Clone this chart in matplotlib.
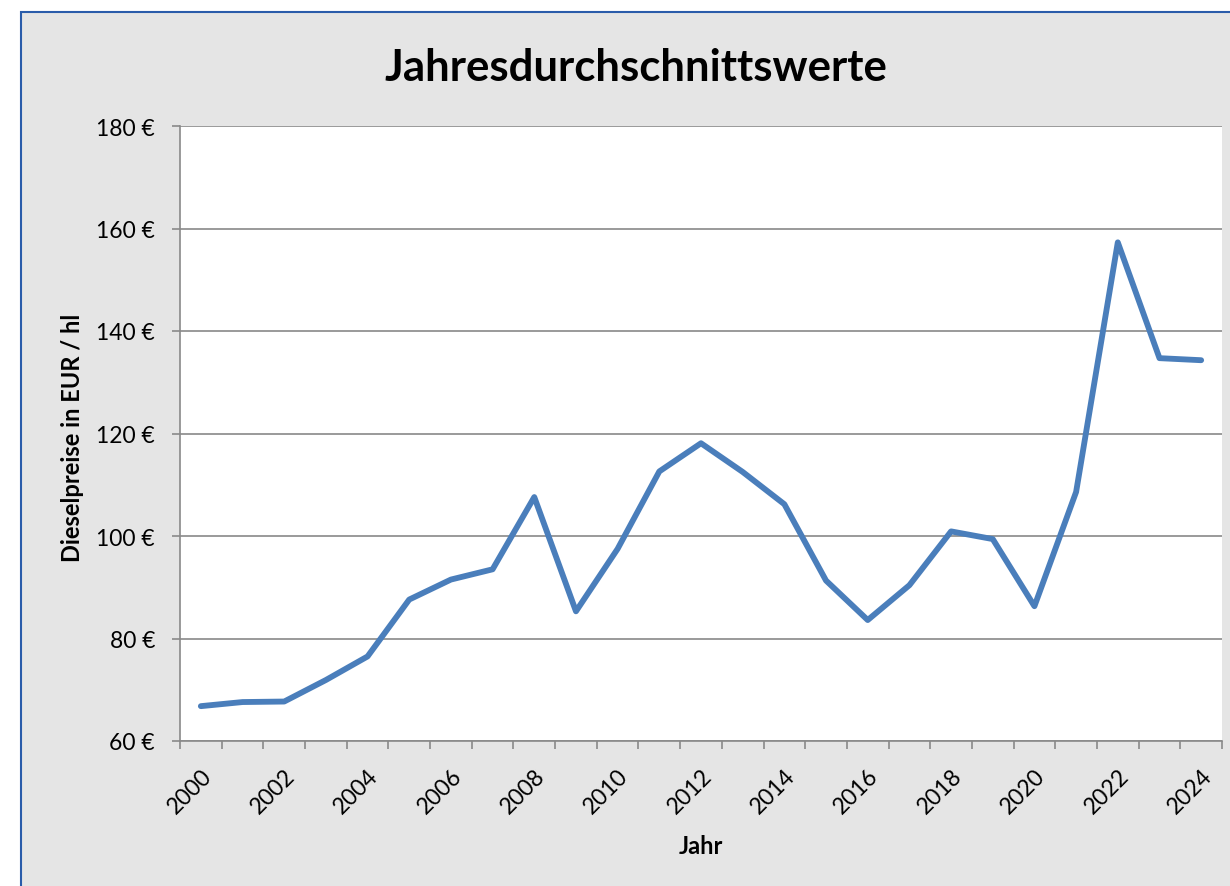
import matplotlib
matplotlib.use("Agg")
import matplotlib.pyplot as plt
from matplotlib.patches import Rectangle
from matplotlib.ticker import FuncFormatter, MultipleLocator

# ── Data ──────────────────────────────────────────────────────────────────────
years = list(range(2000, 2025))
diesel_eur_hl = [
    66.8, 67.6, 67.7, 71.9, 76.5, 87.6, 91.5, 93.5, 107.6, 85.3,
    97.5, 112.6, 118.1, 112.5, 106.2, 91.3, 83.6, 90.4, 100.9, 99.4,
    86.3, 108.6, 157.3, 134.7, 134.3,
]
y_ticks = [60, 80, 100, 120, 140, 160, 180]
x_labels = years[::2]

# ── Style ─────────────────────────────────────────────────────────────────────
plt.rcParams["font.family"] = ["Lato", "DejaVu Sans"]
C_LINE = "#4a7ebb"
C_AXIS = "#898989"
C_BG = "#e5e5e5"
C_FRAME = "#2a5caa"

W, H = 1230, 887
AX_L, AX_R, AX_T, AX_B = 180, 1222, 127, 742   # plot area in pixels
fig = plt.figure(figsize=(W / 100, H / 100), dpi=100, facecolor="white")

# chart frame (extends beyond right/bottom edge like the cropped original)
fig.patches.append(Rectangle((21 / W, -0.1), 1.2, (H - 13) / H + 0.1,
                             transform=fig.transFigure, facecolor=C_BG,
                             edgecolor=C_FRAME, linewidth=1.5, zorder=-5))

ax = fig.add_axes([AX_L / W, (H - AX_B) / H, (AX_R - AX_L) / W, (AX_B - AX_T) / H])
ax.set_facecolor("white")

ax.plot(years, diesel_eur_hl, color=C_LINE, linewidth=4.2,
        solid_joinstyle="round", solid_capstyle="round", zorder=3)

ax.set_xlim(1999.5, 2024.5)
ax.set_ylim(60, 180)
ax.set_yticks(y_ticks)
ax.yaxis.set_major_formatter(FuncFormatter(lambda v, _: f"{v:.0f} €"))
ax.grid(axis="y", color=C_AXIS, linewidth=1.2)
ax.set_axisbelow(True)

ax.set_xticks(x_labels)
ax.set_xticklabels([str(y) for y in x_labels], rotation=45, ha="right",
                   va="top", rotation_mode="anchor")
ax.xaxis.set_minor_locator(MultipleLocator(1, offset=0.5))
ax.tick_params(axis="x", which="major", length=0, pad=17, labelsize=16.5)
ax.tick_params(axis="x", which="minor", length=6, width=1.2, color=C_AXIS,
               direction="out")
ax.tick_params(axis="y", length=6, width=1.2, color=C_AXIS, labelsize=16.5, pad=12)

for side in ("top", "right"):
    ax.spines[side].set_visible(False)
for side in ("left", "bottom"):
    ax.spines[side].set_color(C_AXIS)
    ax.spines[side].set_linewidth(1.2)

ax.set_xlabel("Jahr", fontsize=17, fontweight="bold", va="center")
ax.xaxis.set_label_coords(0.5, -(847 - AX_B) / (AX_B - AX_T))
ax.set_ylabel("Dieselpreise in EUR / hl", fontsize=17, fontweight="bold", va="center")
ax.yaxis.set_label_coords((72 - AX_L) / (AX_R - AX_L), 0.495)

fig.text(636 / W, 1 - 68 / H, "Jahresdurchschnittswerte", fontsize=31.5,
         fontweight="bold", ha="center", va="center")

fig.savefig("out.png", dpi=100, facecolor=fig.get_facecolor())
